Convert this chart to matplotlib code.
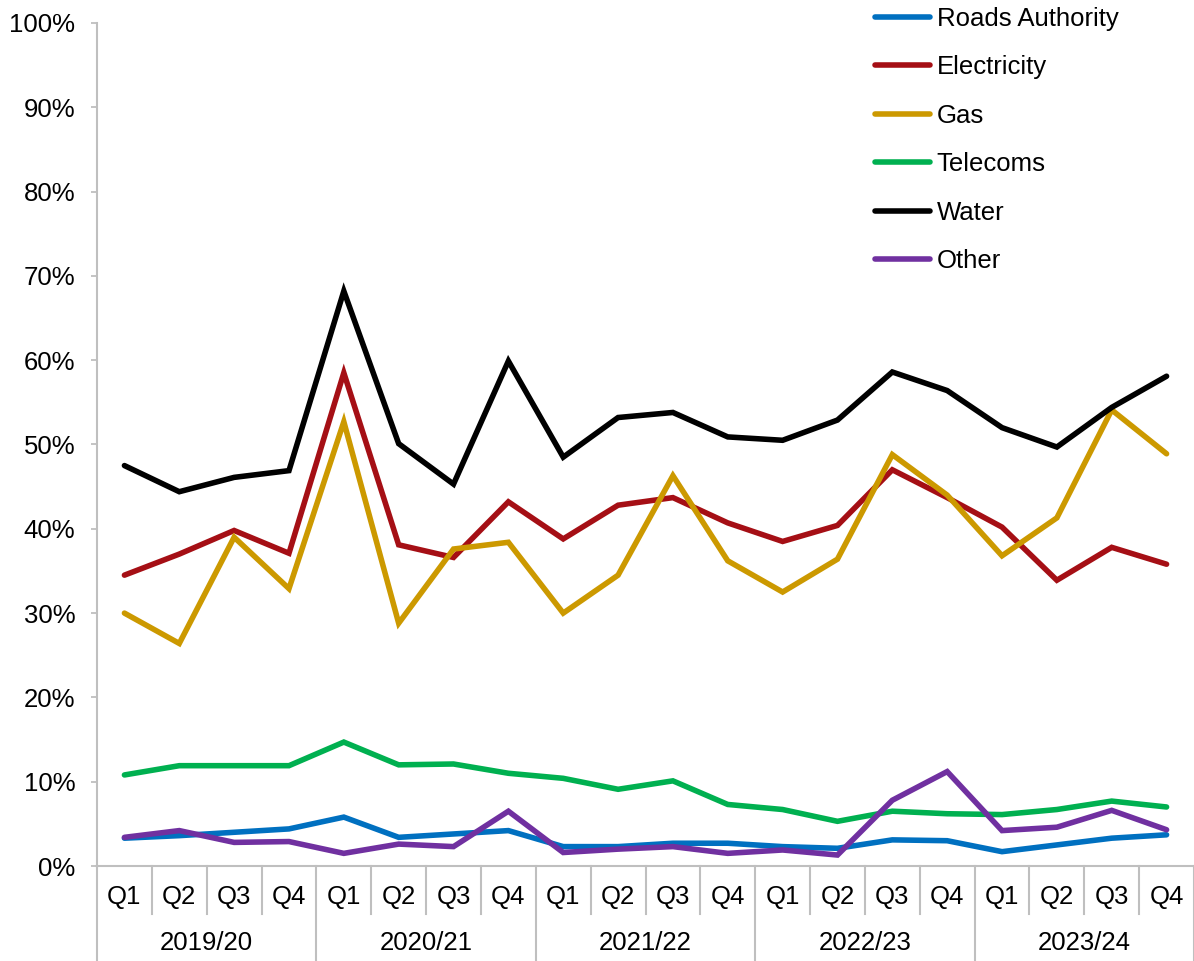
import numpy as np
import matplotlib
matplotlib.use("Agg")
import matplotlib.pyplot as plt

plt.rcParams['font.family'] = ['Liberation Sans', 'DejaVu Sans']

# quarters and financial years
quarters = ['Q1', 'Q2', 'Q3', 'Q4'] * 5
years = ['2019/20', '2020/21', '2021/22', '2022/23', '2023/24']

# values in %
roads = [3.3, 3.6, 4.0, 4.4, 5.8, 3.4, 3.8, 4.2, 2.3, 2.3,
         2.7, 2.7, 2.3, 2.1, 3.1, 3.0, 1.7, 2.5, 3.3, 3.7]
electricity = [34.5, 37.0, 39.8, 37.1, 58.5, 38.1, 36.6, 43.2, 38.8, 42.8,
               43.7, 40.7, 38.5, 40.4, 47.0, 43.7, 40.2, 33.9, 37.8, 35.8]
gas = [30.0, 26.4, 39.0, 32.9, 52.7, 28.8, 37.6, 38.4, 30.0, 34.5,
       46.3, 36.2, 32.5, 36.4, 48.8, 44.0, 36.8, 41.3, 54.1, 48.9]
telecoms = [10.8, 11.9, 11.9, 11.9, 14.7, 12.0, 12.1, 11.0, 10.4, 9.1,
            10.1, 7.3, 6.7, 5.3, 6.5, 6.2, 6.1, 6.7, 7.7, 7.0]
water = [47.5, 44.4, 46.1, 46.9, 68.2, 50.1, 45.3, 59.9, 48.5, 53.2,
         53.8, 50.9, 50.5, 52.9, 58.6, 56.4, 52.0, 49.7, 54.4, 58.1]
other = [3.4, 4.2, 2.8, 2.9, 1.5, 2.6, 2.3, 6.5, 1.6, 2.0,
         2.3, 1.5, 1.9, 1.3, 7.8, 11.2, 4.2, 4.6, 6.6, 4.3]

series = [
    ('Roads Authority', roads, '#0070C0'),
    ('Electricity', electricity, '#A50F15'),
    ('Gas', gas, '#CC9900'),
    ('Telecoms', telecoms, '#00B050'),
    ('Water', water, '#000000'),
    ('Other', other, '#7030A0'),
]

FS = 18.5
W, H = 1194, 961
fig = plt.figure(figsize=(W / 100, H / 100), dpi=100)
ax = fig.add_axes([97 / W, (H - 866) / H, (W - 97) / W, (866 - 23) / H])

x = np.arange(len(quarters))
for name, vals, col in series:
    ax.plot(x, np.array(vals) / 100, color=col, lw=4, label=name,
            solid_joinstyle='miter', solid_capstyle='round')

grey = '#BFBFBF'
ax.set_xlim(-0.5, len(quarters) - 0.5)
ax.set_ylim(0, 1)
ax.set_yticks(np.arange(0, 1.01, 0.1))
ax.set_yticklabels([f'{int(round(v * 100))}%' for v in np.arange(0, 1.01, 0.1)])
ax.tick_params(axis='y', labelsize=FS, length=4.5, width=1.3, color=grey, pad=11)
ax.set_xticks([])
for s in ['top', 'right']:
    ax.spines[s].set_visible(False)
for s in ['left', 'bottom']:
    ax.spines[s].set_color(grey)
    ax.spines[s].set_linewidth(1.5)

# category axis drawn by hand below the plot
trans = ax.get_xaxis_transform()
px = 1 / (866 - 23)
for i in range(len(quarters) + 1):
    bottom = -(H - 866) * px if i % 4 == 0 else -48 * px
    ax.plot([i - 0.5, i - 0.5], [0, bottom], color=grey, lw=1.5,
            transform=trans, clip_on=False)
for i, q in enumerate(quarters):
    ax.text(i, -31 * px, q, transform=trans, ha='center', va='center', fontsize=FS)
for j, yr in enumerate(years):
    ax.text(j * 4 + 1.5, -77 * px, yr, transform=trans, ha='center', va='center',
            fontsize=FS)

ax.legend(loc='upper left', bbox_to_anchor=(875 / W, 1 - 7 / H),
          bbox_transform=fig.transFigure, frameon=False, fontsize=FS,
          handlelength=2.15, handletextpad=0.25, labelspacing=0.95, borderpad=0,
          borderaxespad=0)

fig.savefig('out.png', dpi=100)
